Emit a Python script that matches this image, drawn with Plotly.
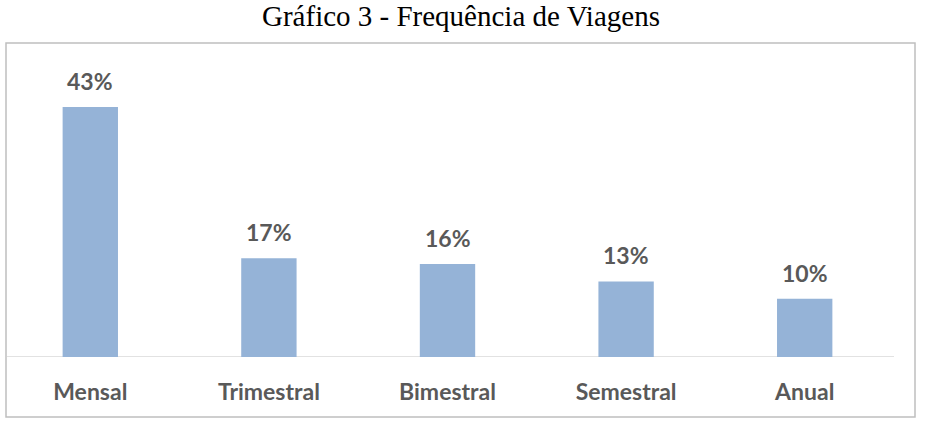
import plotly.graph_objects as go

categories = ["Mensal", "Trimestral", "Bimestral", "Semestral", "Anual"]
values = [43, 17, 16, 13, 10]
labels = ["43%", "17%", "16%", "13%", "10%"]

W, H = 931, 424
bar_color = "#95B3D7"
text_color = "#595959"

fig = go.Figure()
fig.add_trace(go.Bar(x=categories, y=values, marker=dict(color=bar_color, line=dict(width=0)),
                     width=0.31, hoverinfo="skip"))

for c, v, t in zip(categories, values, labels):
    fig.add_annotation(x=c, y=v, text=t, showarrow=False, yanchor="bottom", yshift=10,
                       font=dict(family="Lato", size=23, color=text_color, weight="bold"))

# plot area geometry (pixels)
x0, x1 = 1, 894
y_base, y_top = 357, 66.3
fig.update_layout(
    width=W, height=H, margin=dict(l=0, r=0, t=0, b=0),
    paper_bgcolor="white", plot_bgcolor="white", showlegend=False,
    xaxis=dict(domain=[x0 / W, x1 / W], showgrid=False, zeroline=False,
               showline=False,
               ticks="outside", ticklen=14, tickcolor="rgba(0,0,0,0)",
               tickfont=dict(family="Lato", size=23, color=text_color, weight="bold")),
    yaxis=dict(domain=[(H - y_base) / H, (H - y_top) / H], range=[0, 50],
               visible=False, showgrid=False, zeroline=False),
    bargap=0.69,
)

# baseline (category axis line)
fig.add_shape(type="line", xref="paper", yref="y", x0=7 / W, x1=x1 / W, y0=0, y1=0,
              line=dict(color="#D9D9D9", width=1.5), layer="below")

# outer chart border
fig.add_shape(type="rect", xref="paper", yref="paper",
              x0=6 / W, x1=915 / W, y0=(H - 417) / H, y1=(H - 43) / H,
              line=dict(color="#BFBFBF", width=1.5), fillcolor="rgba(0,0,0,0)", layer="below")

fig.add_annotation(xref="paper", yref="paper", x=461 / W, y=1,
                   text="Gráfico 3 - Frequência de Viagens", showarrow=False,
                   xanchor="center", yanchor="top", yshift=2,
                   font=dict(family="Liberation Serif", size=29, color="#000000"))

fig.write_html("out.html")
